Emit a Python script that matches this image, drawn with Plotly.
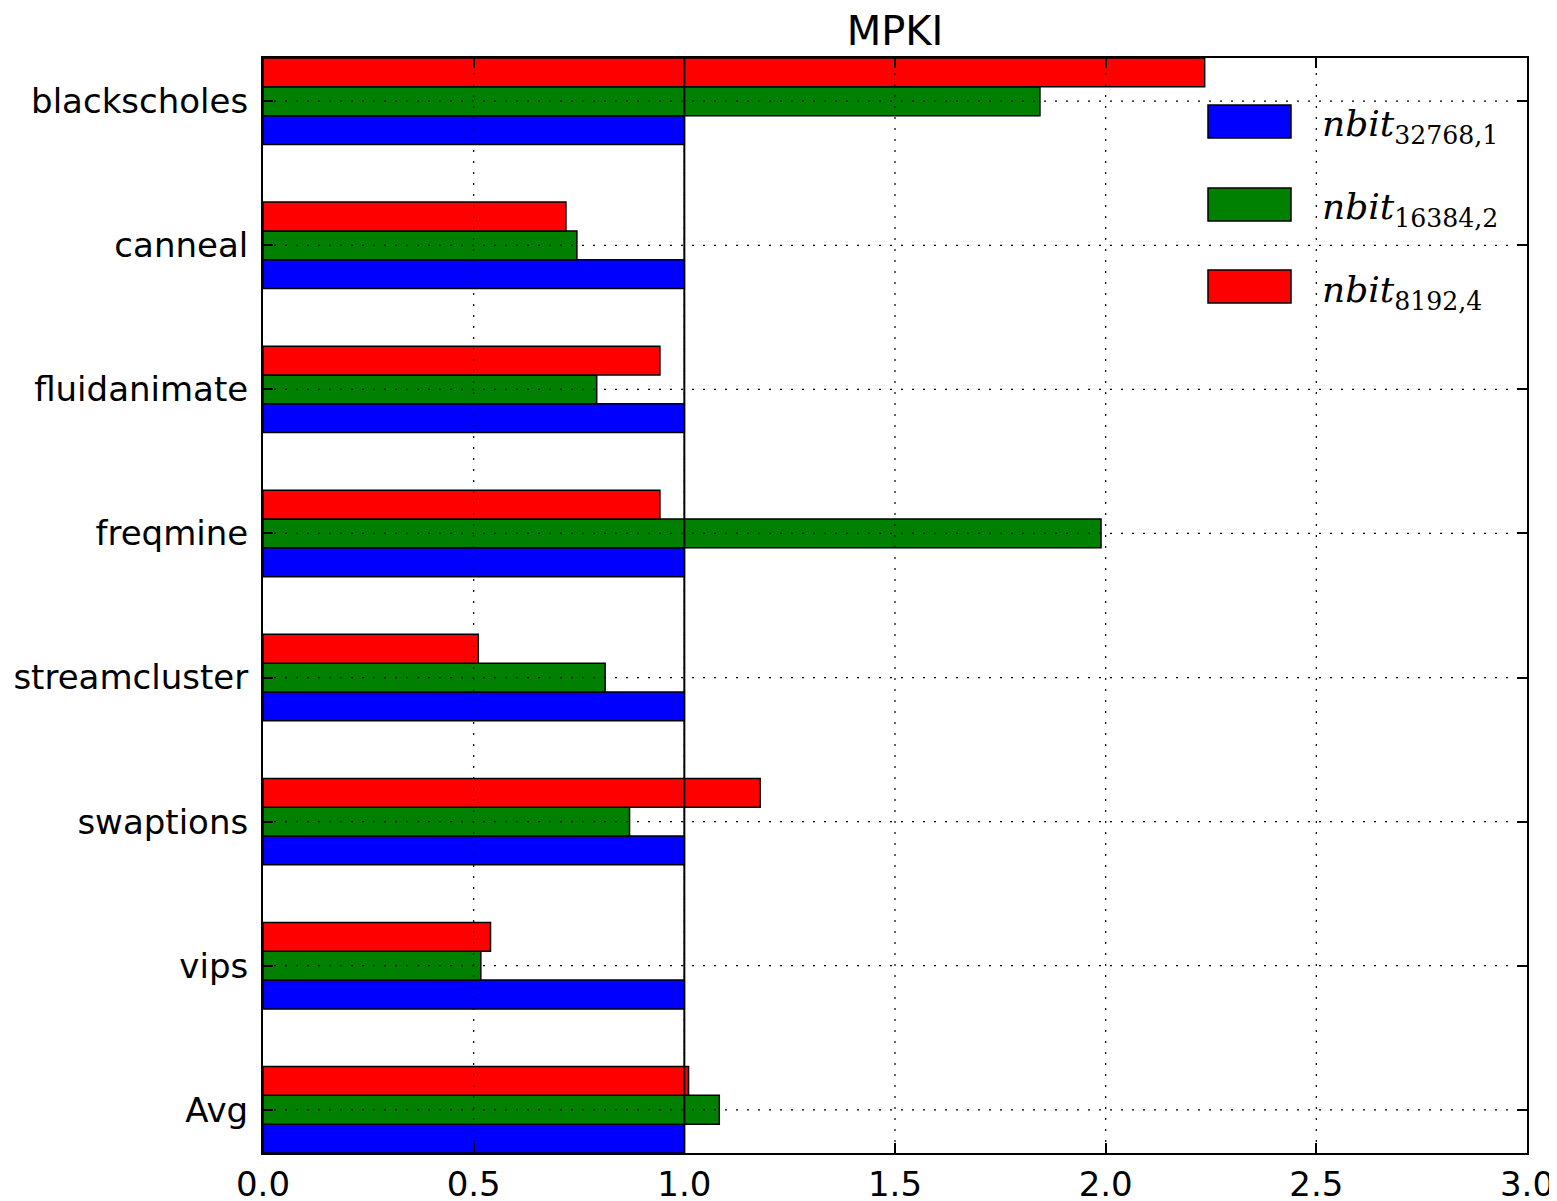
"""
MPKI comparison of nbit predictor configurations across PARSEC benchmarks,
drawn as grouped horizontal bars (normalised to nbit_32768,1).
"""
import plotly.graph_objects as go

# benchmarks, listed top to bottom as in the chart
benchmarks = ['blackscholes', 'canneal', 'fluidanimate', 'freqmine',
              'streamcluster', 'swaptions', 'vips', 'Avg']

series_names = ['nbit_32768,1', 'nbit_16384,2', 'nbit_8192,4']
series_labels = ['<i>nbit</i><sub>32768,1</sub>',
                 '<i>nbit</i><sub>16384,2</sub>',
                 '<i>nbit</i><sub>8192,4</sub>']

nbit_32768_1 = [1.0, 1.0, 1.0, 1.0, 1.0, 1.0, 1.0, 1.0]
nbit_16384_2 = [1.844, 0.745, 0.792, 1.989, 0.812, 0.870, 0.517, 1.083]
nbit_8192_4 = [2.235, 0.719, 0.942, 0.942, 0.511, 1.180, 0.540, 1.010]

x_ticks = [0.0, 0.5, 1.0, 1.5, 2.0, 2.5, 3.0]

colors = ['#0000ff', '#008000', '#ff0000']
FONT = 'DejaVu Sans'

#figure size and the wanted plot area, in page pixels
W, H = 1557, 1201
PAGE_OFF = 8  # the html body margin shifts the figure by this much
PL, PR, PT, PB = 263, 1527, 58, 1153
L, T = PL - PAGE_OFF, PT - PAGE_OFF
R, B = W + PAGE_OFF - PR, H + PAGE_OFF - PB

fig = go.Figure()
for name, vals, color in zip(series_names, [nbit_32768_1, nbit_16384_2, nbit_8192_4], colors):
    fig.add_trace(go.Bar(
        name=name, y=benchmarks, x=vals, orientation='h',
        marker=dict(color=color, line=dict(color='black', width=1.5)),
        showlegend=False,
    ))

#dotted grid drawn above the bars, like matplotlib's classic style
grid_dash = '2px,9px'
for xv in x_ticks[1:-1]:
    fig.add_shape(type='line', xref='x', yref='paper', x0=xv, x1=xv, y0=0, y1=1,
                  line=dict(color='black', width=1.2, dash=grid_dash), layer='above')
for i, b in enumerate(reversed(benchmarks)):
    fig.add_shape(type='line', xref='paper', yref='y', x0=0, x1=1, y0=i, y1=i,
                  line=dict(color='black', width=1.2, dash=grid_dash), layer='above')

#baseline at 1.0
fig.add_shape(type='line', xref='x', yref='paper', x0=1.0, x1=1.0, y0=0, y1=1,
              line=dict(color='black', width=2), layer='above')

#legend drawn by hand so the swatches are as large as in the reference
pw, ph = PR - PL, PB - PT
def px_x(p):
    return (p - PL) / pw
def px_y(p):
    return (PB - p) / ph

sw_tops = [105, 188, 270]
for top, color, label in zip(sw_tops, colors, series_labels):
    fig.add_shape(type='rect', xref='paper', yref='paper',
                  x0=px_x(1208), x1=px_x(1291), y0=px_y(top + 33), y1=px_y(top),
                  fillcolor=color, line=dict(color='black', width=1.5), layer='above')
    fig.add_annotation(xref='paper', yref='paper', x=px_x(1320), y=px_y(top + 22),
                       text=label, showarrow=False, xanchor='left', yanchor='middle',
                       font=dict(family='DejaVu Serif', size=36, color='black'))

fig.update_layout(
    width=W, height=H,
    margin=dict(l=L, r=R, t=T, b=B, autoexpand=False),
    paper_bgcolor='white', plot_bgcolor='white',
    barmode='group', bargap=0.4, bargroupgap=0,
    font=dict(family=FONT, size=34, color='black'),
    title=dict(text='MPKI', x=0.5, xref='paper', y=1 - (31 - PAGE_OFF) / H, yanchor='middle',
               xanchor='center', font=dict(family=FONT, size=40, color='black')),
    xaxis=dict(range=[0, 3], tickvals=x_ticks, tickformat='.1f', showgrid=False,
               zeroline=False, showline=True, linecolor='black', linewidth=2,
               mirror='ticks', ticks='inside', ticklen=10, tickwidth=1.5,
               tickcolor='black', automargin=False),
    yaxis=dict(categoryorder='array', categoryarray=list(reversed(benchmarks)),
               range=[-0.3, len(benchmarks) - 0.7], showgrid=False, zeroline=False,
               showline=True, linecolor='black', linewidth=2, mirror='ticks',
               ticks='inside', ticklen=10, tickwidth=1.5, tickcolor='black',
               ticklabelstandoff=6, automargin=False),
)

fig.write_html("out.html")
